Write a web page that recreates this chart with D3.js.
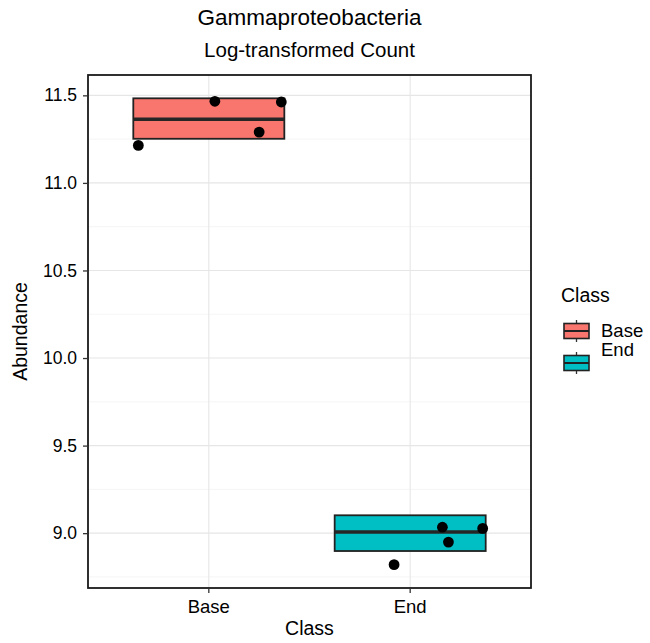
<!DOCTYPE html>
<html>
<head>
<meta charset="utf-8">
<script src="https://cdn.jsdelivr.net/npm/d3@7"></script>
<style>
  body { margin: 0; background: #fff; }
  svg text { font-family: "Liberation Sans", Arial, Helvetica, sans-serif; fill: #000; }
</style>
</head>
<body>
<svg id="chart" width="650" height="643"></svg>
<script>
// Groups and their fill colours
const classes = ["Base", "End"];
const classColors = ["#F8766D", "#00BFC4"];

// Box statistics per group (lower hinge, median, upper hinge)
const boxLower  = [11.252, 8.898];
const boxMedian = [11.364, 9.006];
const boxUpper  = [11.483, 9.102];

// Individual samples: group, abundance, horizontal jitter (in band units)
const sampleClass  = ["Base", "Base", "Base", "Base", "End", "End", "End", "End"];
const sampleValue  = [11.214, 11.466, 11.290, 11.462, 9.034, 9.027, 8.949, 8.820];
const sampleJitter = [-0.35, 0.03, 0.25, 0.36, 0.16, 0.36, 0.19, -0.08];

// Axis ticks
const yTicks = [9.0, 9.5, 10.0, 10.5, 11.0, 11.5];
const yMinorTicks = [8.75, 9.25, 9.75, 10.25, 10.75, 11.25];

const svg = d3.select("#chart");
const panel = { left: 88, right: 531, top: 75, bottom: 588 };

// Continuous y with 5% padding around the data range
const allVals = sampleValue.concat(boxLower, boxUpper);
const vMin = d3.min(allVals), vMax = d3.max(allVals);
const pad = (vMax - vMin) * 0.05;
const y = d3.scaleLinear().domain([vMin - pad, vMax + pad]).range([panel.bottom, panel.top]);

// Discrete x: categories at 1..n with 0.6 expansion on each side
const xc = d3.scaleLinear().domain([0.4, classes.length + 0.6]).range([panel.left, panel.right]);
const xPos = c => xc(classes.indexOf(c) + 1);
const color = d3.scaleOrdinal().domain(classes).range(classColors);

// Panel background and grid
svg.append("rect").attr("x", panel.left).attr("y", panel.top)
  .attr("width", panel.right - panel.left).attr("height", panel.bottom - panel.top)
  .attr("fill", "#fff");

const grid = svg.append("g");
grid.selectAll("line.minor").data(yMinorTicks.filter(t => y(t) > panel.top && y(t) < panel.bottom))
  .join("line").attr("class", "minor")
  .attr("x1", panel.left).attr("x2", panel.right)
  .attr("y1", d => y(d)).attr("y2", d => y(d))
  .attr("stroke", "#F3F3F3").attr("stroke-width", 0.8);
grid.selectAll("line.major").data(yTicks)
  .join("line").attr("class", "major")
  .attr("x1", panel.left).attr("x2", panel.right)
  .attr("y1", d => y(d)).attr("y2", d => y(d))
  .attr("stroke", "#E6E6E6").attr("stroke-width", 1.1);
grid.selectAll("line.vmajor").data(classes)
  .join("line").attr("class", "vmajor")
  .attr("x1", d => xPos(d)).attr("x2", d => xPos(d))
  .attr("y1", panel.top).attr("y2", panel.bottom)
  .attr("stroke", "#E6E6E6").attr("stroke-width", 1.1);

// Boxes
const boxW = (xc(1.75) - xc(1)) ;
const boxes = svg.append("g").selectAll("g").data(classes).join("g");
boxes.append("rect")
  .attr("x", d => xPos(d) - boxW / 2)
  .attr("y", (d, i) => y(boxUpper[i]))
  .attr("width", boxW)
  .attr("height", (d, i) => y(boxLower[i]) - y(boxUpper[i]))
  .attr("fill", d => color(d))
  .attr("stroke", "#222").attr("stroke-width", 1.8);
boxes.append("line")
  .attr("x1", d => xPos(d) - boxW / 2).attr("x2", d => xPos(d) + boxW / 2)
  .attr("y1", (d, i) => y(boxMedian[i])).attr("y2", (d, i) => y(boxMedian[i]))
  .attr("stroke", "#262626").attr("stroke-width", 3.5);

// Sample points
svg.append("g").selectAll("circle").data(sampleValue).join("circle")
  .attr("cx", (d, i) => xc(classes.indexOf(sampleClass[i]) + 1 + sampleJitter[i]))
  .attr("cy", d => y(d))
  .attr("r", 5.4)
  .attr("fill", "#000");

// Panel border
svg.append("rect").attr("x", panel.left).attr("y", panel.top)
  .attr("width", panel.right - panel.left).attr("height", panel.bottom - panel.top)
  .attr("fill", "none").attr("stroke", "#1a1a1a").attr("stroke-width", 1.8);

// Axes
const yAxis = d3.axisLeft(y).tickValues(yTicks).tickFormat(d3.format(".1f")).tickSize(5).tickPadding(6);
const gy = svg.append("g").attr("transform", `translate(${panel.left},0)`).call(yAxis);
gy.select(".domain").remove();
gy.selectAll(".tick line").attr("stroke", "#333").attr("stroke-width", 1.3);
gy.selectAll(".tick text").attr("font-size", 17.5).attr("fill", "#1a1a1a")
  .attr("font-family", "Liberation Sans, Arial, sans-serif");

const xb = d3.scaleBand().domain(classes).range([xc(0.5), xc(classes.length + 0.5)]);
const xAxis = d3.axisBottom(xb).tickSize(5).tickPadding(7);
const gx = svg.append("g").attr("transform", `translate(0,${panel.bottom})`).call(xAxis);
gx.select(".domain").remove();
gx.selectAll(".tick line").attr("stroke", "#333").attr("stroke-width", 1.3);
gx.selectAll(".tick text").attr("font-size", 18.5).attr("fill", "#1a1a1a")
  .attr("font-family", "Liberation Sans, Arial, sans-serif");

// Titles
const cx = (panel.left + panel.right) / 2;
svg.append("text").attr("x", cx).attr("y", 25).attr("text-anchor", "middle")
  .attr("font-size", 22.5).text("Gammaproteobacteria");
svg.append("text").attr("x", cx).attr("y", 57).attr("text-anchor", "middle")
  .attr("font-size", 20.5).text("Log-transformed Count");
svg.append("text").attr("x", cx).attr("y", 635).attr("text-anchor", "middle")
  .attr("font-size", 19.5).text("Class");
svg.append("text").attr("transform", `translate(27,${(panel.top + panel.bottom) / 2}) rotate(-90)`)
  .attr("text-anchor", "middle").attr("font-size", 19.5).text("Abundance");

// Legend
const lg = svg.append("g");
lg.append("text").attr("x", 561).attr("y", 302).attr("font-size", 19.5).text("Class");
const keyY = [320, 352];
const labelY = [337, 356];
classes.forEach((c, i) => {
  const k = lg.append("g").attr("transform", `translate(564,${keyY[i]})`);
  const kw = 25, kh = 22;
  k.append("line").attr("x1", kw / 2).attr("x2", kw / 2).attr("y1", 0).attr("y2", kh)
    .attr("stroke", "#333").attr("stroke-width", 1.3);
  k.append("rect").attr("x", 0).attr("y", 3.5).attr("width", kw).attr("height", kh - 7)
    .attr("fill", color(c)).attr("stroke", "#222").attr("stroke-width", 1.6);
  k.append("line").attr("x1", 0).attr("x2", kw).attr("y1", kh / 2).attr("y2", kh / 2)
    .attr("stroke", "#222").attr("stroke-width", 2);
  lg.append("text").attr("x", 601).attr("y", labelY[i]).attr("font-size", 18.5).text(c);
});
</script>
</body>
</html>
